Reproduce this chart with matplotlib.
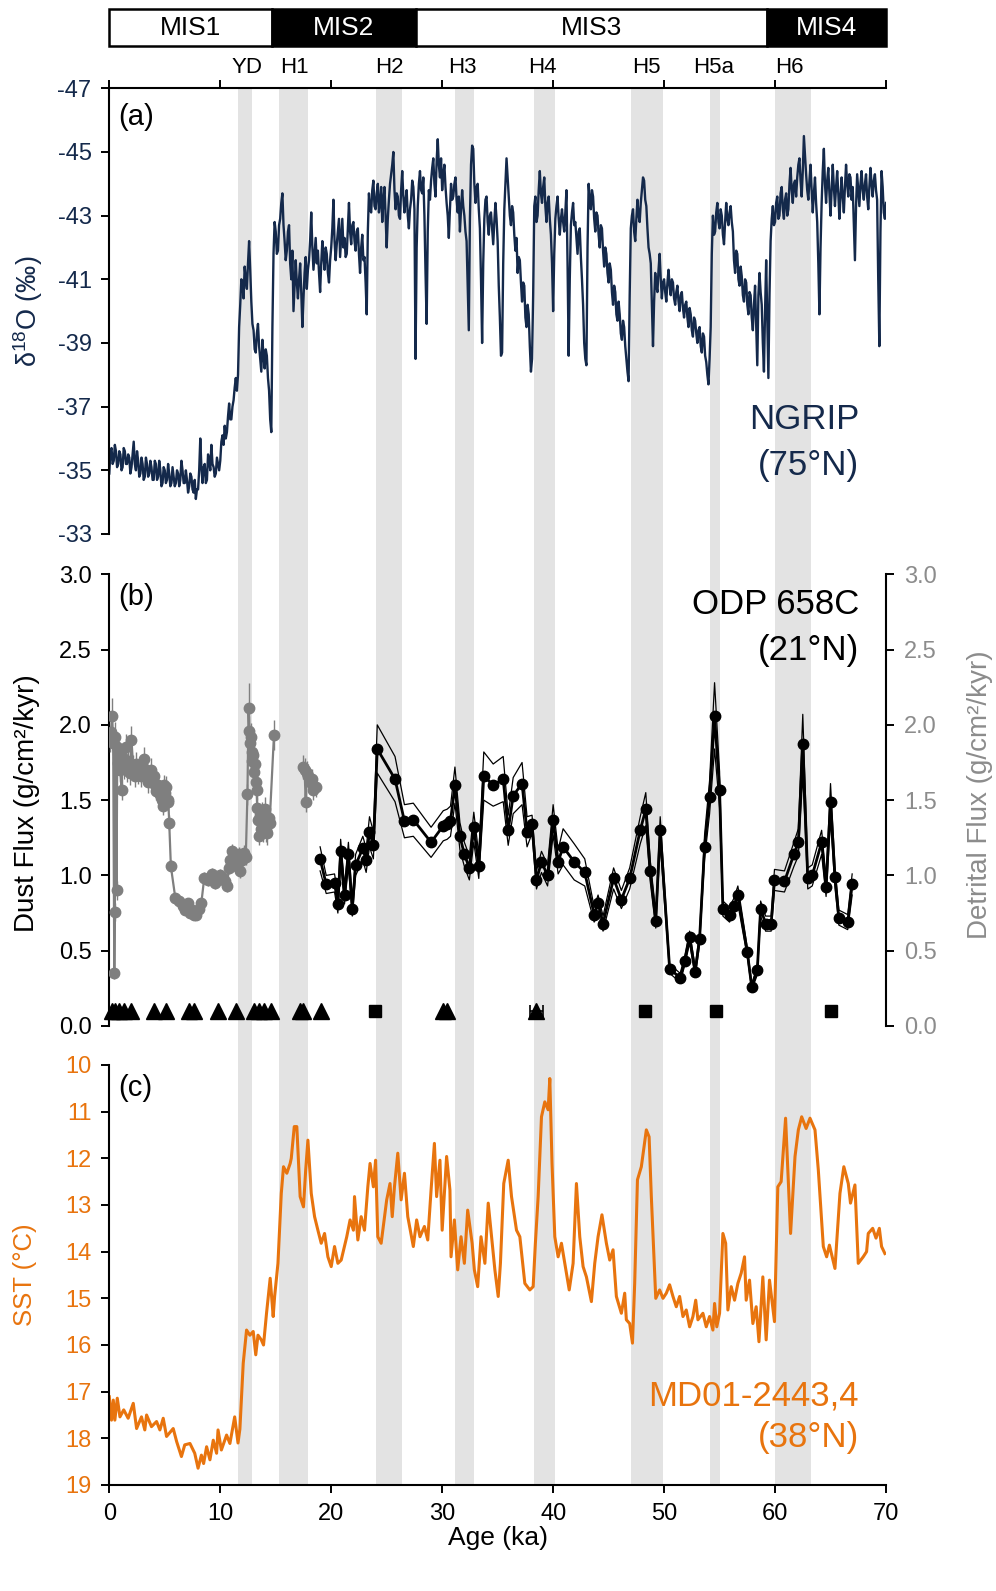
import numpy as np
import matplotlib
matplotlib.use('Agg')
import matplotlib.pyplot as plt
from matplotlib.patches import Rectangle

# ---------------- data ----------------
mis_labels = ['MIS1', 'MIS2', 'MIS3', 'MIS4']
mis_start = [0.0, 14.7, 27.6, 59.3]
mis_end = [14.7, 27.6, 59.3, 70.0]

event_labels = ['YD', 'H1', 'H2', 'H3', 'H4', 'H5', 'H5a', 'H6']
event_label_x = [12.4, 16.7, 25.2, 31.8, 39.0, 48.4, 54.5, 61.3]
band_start = [11.57, 15.29, 24.05, 31.14, 38.29, 47.0, 54.14, 59.97]
band_end = [12.88, 17.93, 26.34, 32.88, 40.18, 49.9, 55.08, 63.2]

# NGRIP d18O, 0.1 ka steps 0-70 ka (one row per ka)
ngrip_age = np.linspace(0, 70, 701)
ngrip_d18o = [
    -34.9, -35.6, -35.7, -35.2, -35.3, -35.8, -35.6, -35.1, -35.2, -35.6,
    -35.5, -35.0, -35.1, -35.7, -35.6, -35.2, -35.2, -35.5, -35.4, -34.9,
    -35.1, -35.5, -35.9, -35.2, -35.0, -35.6, -35.3, -34.8, -34.9, -35.4,
    -35.2, -34.7, -34.8, -35.4, -35.2, -34.8, -34.9, -35.3, -35.1, -34.7,
    -34.7, -35.3, -35.2, -34.7, -34.8, -35.3, -35.0, -34.5, -34.6, -35.1,
    -35.0, -34.6, -34.7, -35.2, -34.9, -34.5, -34.6, -35.1, -34.8, -34.5,
    -34.6, -35.0, -34.9, -34.5, -34.7, -35.3, -35.0, -34.6, -34.6, -35.0,
    -34.7, -34.3, -34.5, -34.9, -34.8, -34.4, -34.3, -34.7, -34.1, -34.4,
    -34.4, -35.0, -36.0, -35.1, -34.6, -35.1, -35.2, -34.6, -34.7, -35.5,
    -35.3, -35.0, -35.8, -35.2, -35.1, -34.8, -34.9, -35.4, -35.2, -35.0,
    -35.3, -35.9, -36.1, -35.8, -36.4, -36.0, -36.2, -36.7, -37.1, -36.6,
    -36.6, -37.0, -37.2, -37.6, -37.9, -37.5, -38.0, -39.5, -40.2, -41.0,
    -40.9, -40.4, -41.4, -41.0, -40.7, -41.5, -42.2, -41.3, -40.3, -39.6,
    -39.4, -38.8, -38.7, -39.3, -39.6, -38.9, -38.5, -38.1, -39.1, -38.6,
    -38.2, -38.8, -38.6, -37.9, -37.5, -36.6, -36.2, -39.5, -41.8, -42.8,
    -42.5, -41.8, -41.9, -42.7, -42.9, -43.4, -43.7, -42.7, -42.2, -41.6,
    -41.9, -42.5, -42.7, -41.5, -41.0, -41.9, -40.0, -40.8, -41.6, -40.9,
    -40.4, -41.0, -41.5, -40.6, -39.5, -40.4, -41.2, -41.7, -40.7, -41.3,
    -41.6, -42.2, -43.1, -42.0, -41.3, -41.8, -42.3, -41.5, -41.9, -41.2,
    -40.6, -41.5, -42.2, -41.7, -41.3, -42.0, -41.8, -41.2, -40.9, -41.6,
    -42.0, -42.6, -43.5, -42.2, -41.6, -42.1, -42.5, -42.9, -41.7, -42.3,
    -42.9, -42.0, -42.3, -41.7, -41.8, -42.6, -43.4, -42.5, -42.1, -42.7,
    -42.8, -42.2, -41.9, -42.5, -42.6, -41.8, -41.2, -42.0, -42.4, -41.6,
    -41.7, -40.9, -39.9, -42.5, -43.7, -43.2, -43.1, -43.8, -44.1, -43.3,
    -43.2, -43.7, -44.0, -43.1, -43.4, -43.9, -42.8, -43.5, -43.9, -43.0,
    -42.0, -42.9, -43.5, -44.0, -44.3, -44.6, -45.0, -43.8, -43.2, -43.7,
    -43.6, -43.0, -42.9, -43.8, -44.4, -43.6, -43.1, -43.5, -43.8, -43.0,
    -42.6, -43.2, -43.5, -44.1, -43.9, -43.2, -38.5, -42.0, -43.3, -44.0,
    -44.4, -43.8, -43.7, -44.2, -43.0, -41.2, -39.6, -42.5, -43.8, -43.5,
    -44.1, -44.5, -44.8, -44.0, -43.6, -44.7, -45.4, -44.6, -44.2, -44.8,
    -43.8, -44.3, -44.6, -43.9, -43.4, -43.0, -42.3, -43.2, -44.0, -43.5,
    -43.6, -44.0, -44.2, -43.5, -43.1, -43.6, -42.5, -43.2, -43.8, -43.3,
    -43.0, -42.5, -42.2, -40.8, -39.4, -42.9, -44.6, -45.2, -45.1, -44.0,
    -43.4, -43.9, -44.0, -43.2, -42.6, -41.0, -39.0, -41.5, -42.9, -43.5,
    -43.6, -42.8, -42.4, -43.0, -43.1, -42.6, -42.1, -42.8, -43.4, -42.9,
    -42.2, -40.8, -39.8, -38.6, -38.7, -41.5, -43.2, -44.0, -44.8, -44.2,
    -43.6, -43.0, -42.7, -43.3, -43.1, -42.4, -41.9, -42.3, -41.2, -41.7,
    -41.6, -40.9, -40.3, -40.9, -40.8, -39.8, -39.5, -40.2, -39.9, -38.9,
    -38.1, -38.5, -40.5, -43.3, -43.6, -42.8, -43.0, -43.8, -44.4, -43.7,
    -43.4, -43.9, -44.2, -43.3, -42.8, -43.4, -43.6, -42.9, -42.4, -41.5,
    -40.0, -41.8, -42.9, -43.3, -43.6, -42.9, -42.4, -42.9, -43.2, -42.8,
    -42.5, -43.1, -43.8, -41.5, -38.6, -41.0, -42.7, -43.1, -43.4, -42.7,
    -42.8, -42.3, -41.8, -42.5, -42.6, -41.7, -41.0, -40.2, -39.0, -38.5,
    -38.3, -42.0, -44.0, -43.5, -43.2, -43.8, -43.6, -42.9, -42.5, -43.1,
    -43.0, -42.4, -42.0, -42.7, -42.6, -41.9, -41.4, -42.0, -41.8, -41.2,
    -40.9, -41.5, -41.3, -40.6, -40.2, -40.8, -40.6, -39.9, -39.7, -40.3,
    -39.9, -39.3, -39.1, -39.7, -39.5, -38.9, -38.5, -38.1, -37.8, -40.5,
    -42.6, -43.0, -43.2, -42.5, -42.2, -42.9, -43.5, -43.0, -42.8, -43.4,
    -43.8, -44.2, -44.1, -43.5, -43.3, -42.6, -42.0, -41.8, -41.5, -40.2,
    -38.9, -40.3, -41.2, -40.8, -40.6, -41.3, -41.8, -41.0, -40.4, -40.9,
    -41.0, -40.6, -40.3, -40.9, -41.3, -40.8, -40.5, -41.0, -40.9, -40.4,
    -40.2, -40.6, -40.8, -40.3, -40.0, -40.5, -40.6, -40.1, -39.8, -40.2,
    -40.3, -39.8, -39.5, -40.1, -39.9, -39.4, -39.2, -39.8, -39.7, -39.3,
    -39.0, -39.4, -39.5, -38.9, -38.7, -39.3, -39.2, -38.6, -38.4, -38.0,
    -37.7, -38.5, -39.5, -41.8, -43.0, -42.4, -42.5, -43.1, -43.4, -42.8,
    -42.6, -43.2, -43.0, -42.4, -42.1, -42.8, -43.4, -42.9, -42.7, -43.1,
    -43.3, -42.8, -42.5, -41.6, -41.2, -41.9, -41.8, -41.0, -40.8, -41.4,
    -41.1, -40.5, -40.3, -41.0, -40.9, -40.2, -39.9, -40.6, -40.5, -39.8,
    -39.4, -40.2, -40.8, -39.5, -38.3, -40.5, -41.2, -40.6, -40.2, -39.0,
    -38.1, -40.0, -41.6, -39.8, -37.9, -40.5, -42.2, -42.9, -43.3, -42.7,
    -42.8, -43.4, -43.6, -42.9, -43.0, -43.7, -43.9, -43.2, -42.9, -43.5,
    -43.7, -43.0, -43.2, -44.0, -44.5, -43.8, -43.4, -44.0, -44.1, -43.6,
    -44.2, -44.6, -44.8, -44.1, -43.6, -44.4, -45.5, -44.9, -44.3, -43.8,
    -43.5, -44.1, -44.6, -43.8, -43.1, -43.7, -44.2, -43.4, -42.8, -41.5,
    -39.9, -42.0, -43.4, -44.4, -45.1, -44.0, -43.4, -44.1, -44.5, -43.7,
    -43.0, -43.8, -44.6, -43.9, -43.3, -43.9, -44.4, -43.7, -42.9, -43.6,
    -44.2, -43.6, -43.1, -43.9, -44.6, -44.0, -43.6, -44.3, -44.2, -43.5,
    -43.9, -42.8, -41.6, -43.3, -44.3, -43.8, -43.3, -44.0, -44.4, -43.8,
    -43.5, -44.0, -44.3, -43.6, -43.2, -43.9, -44.5, -44.0, -43.6, -44.1,
    -44.3, -43.8, -43.5, -41.0, -38.9, -42.5, -44.4, -43.9, -43.1, -42.9,
    -43.4]

# ODP 658C detrital flux (grey, right axis)
detr1_age = [0.05, 0.15, 0.25, 0.35, 0.45, 0.5, 0.55, 0.65, 0.72, 0.8, 0.9, 1.0, 1.1, 1.2,
             1.3, 1.4, 1.5, 1.6, 1.7, 1.85, 2.0, 2.15, 2.3, 2.45, 2.6, 2.75, 2.9, 3.05,
             3.15, 3.3, 3.45, 3.6, 3.75, 3.85, 4.0, 4.1, 4.25, 4.35, 4.5, 4.65, 4.75, 4.85,
             4.95, 5.05, 5.15, 5.25, 5.32, 5.4, 5.55, 5.95, 6.3, 6.6, 6.85, 7.05, 7.25, 7.45,
             7.65, 7.85, 8.05, 8.3, 8.55, 8.9, 9.25, 9.5, 9.7, 9.95, 10.2, 10.45, 10.65, 10.75,
             10.9, 11.05, 11.2, 11.35, 11.5, 11.65, 11.8, 11.95, 12.1, 12.3, 12.45, 12.55,
             12.62, 12.68, 12.75, 12.82, 12.9, 12.97, 13.05, 13.12, 13.2, 13.27, 13.33, 13.4,
             13.48, 13.55, 13.65, 13.75, 13.85, 13.95, 14.05, 14.15, 14.25, 14.35, 14.45, 14.84]
detr1_flux = [1.90, 1.95, 2.06, 1.88, 0.35, 0.76, 1.92, 0.90, 1.85, 1.75, 1.80, 1.70, 1.57, 1.78,
              1.72, 1.74, 1.85, 1.70, 1.76, 1.68, 1.90, 1.72, 1.66, 1.74, 1.68, 1.70, 1.66, 1.72,
              1.77, 1.69, 1.62, 1.66, 1.70, 1.63, 1.66, 1.60, 1.56, 1.60, 1.55, 1.52, 1.50, 1.46,
              1.60, 1.55, 1.59, 1.50, 1.49, 1.35, 1.06, 0.85, 0.83, 0.80, 0.77, 0.82, 0.75, 0.77,
              0.74, 0.74, 0.78, 0.82, 0.98, 0.97, 1.01, 0.95, 0.97, 1.00, 0.99, 0.96, 0.93, 1.05,
              1.10, 1.16, 1.08, 1.12, 1.06, 1.14, 1.03, 1.10, 1.15, 1.12, 1.54, 2.11,
              1.96, 1.88, 1.92, 1.82, 1.76, 1.80, 1.69, 1.74, 1.62, 1.57, 1.45, 1.37,
              1.26, 1.40, 1.31, 1.41, 1.29, 1.35, 1.44, 1.30, 1.28, 1.38, 1.35, 1.93]
detr1_err = [0.08, 0.10, 0.12, 0.08, 0.04, 0.06, 0.10, 0.06, 0.10, 0.08, 0.09, 0.08, 0.07, 0.08,
             0.08, 0.08, 0.09, 0.08, 0.08, 0.08, 0.09, 0.08, 0.07, 0.08, 0.07, 0.07, 0.07, 0.08,
             0.08, 0.07, 0.07, 0.07, 0.08, 0.07, 0.07, 0.07, 0.06, 0.07, 0.06, 0.06, 0.06, 0.06,
             0.07, 0.06, 0.07, 0.06, 0.06, 0.05, 0.04, 0.03, 0.03, 0.03, 0.03, 0.03, 0.03, 0.03,
             0.03, 0.03, 0.03, 0.03, 0.04, 0.04, 0.04, 0.04, 0.04, 0.04, 0.04, 0.04, 0.04, 0.04,
             0.05, 0.05, 0.05, 0.05, 0.05, 0.05, 0.05, 0.05, 0.05, 0.05, 0.07, 0.17,
             0.10, 0.09, 0.09, 0.09, 0.08, 0.08, 0.08, 0.08, 0.08, 0.07, 0.07, 0.07,
             0.06, 0.07, 0.08, 0.08, 0.07, 0.08, 0.08, 0.08, 0.08, 0.08, 0.08, 0.10]
detr2_age = [17.5, 17.6, 17.7, 17.8, 17.95, 18.1, 18.25, 18.4, 18.6]
detr2_flux = [1.72, 1.70, 1.49, 1.68, 1.66, 1.62, 1.64, 1.57, 1.59]
detr2_err = [0.08, 0.08, 0.07, 0.08, 0.08, 0.07, 0.07, 0.07, 0.07]

# ODP 658C dust flux (black, left axis)
dust_age = [19.0, 19.55, 20.3, 20.6, 20.85, 21.2, 21.55, 21.9, 22.2, 22.85, 23.15, 23.45, 23.8,
            24.15, 25.75, 26.6, 27.4, 29.0, 30.1, 30.45, 30.75, 31.15, 31.6, 32.0, 32.45, 32.85,
            33.3, 33.75, 34.6, 35.5, 35.95, 36.4, 37.2, 37.65, 38.1, 38.5, 38.95, 39.5, 40.0,
            40.45, 40.9, 41.9, 42.85, 43.7, 44.05, 44.5, 45.45, 46.15, 46.9, 47.85, 48.35, 48.75,
            49.25, 49.65, 50.5, 51.45, 51.85, 52.3, 52.8, 53.2, 53.65, 54.1, 54.55, 55.0, 55.3,
            55.9, 56.3, 56.65, 57.5, 57.9, 58.4, 58.7, 59.15, 59.65, 59.95, 60.85, 61.7, 62.1,
            62.5, 62.95, 63.35, 64.2, 64.6, 65.0, 65.4, 65.75, 66.55, 66.95]
dust_flux = [1.11, 0.94, 0.95, 0.81, 1.16, 0.87, 1.14, 0.78, 1.07, 1.18, 1.10, 1.29, 1.20,
             1.84, 1.64, 1.36, 1.37, 1.22, 1.33, 1.34, 1.36, 1.60, 1.26, 1.14, 1.05, 1.32,
             1.06, 1.66, 1.60, 1.64, 1.30, 1.53, 1.61, 1.29, 1.34, 0.97, 1.09, 1.00, 1.37,
             1.09, 1.19, 1.09, 1.02, 0.74, 0.82, 0.68, 0.98, 0.84, 0.98, 1.30, 1.44, 1.03,
             0.70, 1.30, 0.38, 0.32, 0.43, 0.59, 0.36, 0.58, 1.19, 1.52, 2.06, 1.57, 0.78,
             0.74, 0.80, 0.87, 0.49, 0.26, 0.37, 0.78, 0.68, 0.68, 0.97, 0.96, 1.14, 1.22,
             1.87, 0.98, 1.00, 1.22, 0.92, 1.49, 0.99, 0.72, 0.69, 0.94]
dust_err = [0.08, 0.06, 0.06, 0.06, 0.08, 0.06, 0.08, 0.05, 0.07, 0.08, 0.08, 0.10, 0.09,
            0.16, 0.15, 0.11, 0.11, 0.10, 0.10, 0.10, 0.10, 0.12, 0.09, 0.08, 0.08, 0.10,
            0.08, 0.16, 0.14, 0.15, 0.10, 0.12, 0.14, 0.10, 0.06, 0.06, 0.07, 0.07, 0.10,
            0.08, 0.12, 0.12, 0.09, 0.05, 0.05, 0.05, 0.07, 0.06, 0.07, 0.09, 0.11, 0.07,
            0.05, 0.09, 0.03, 0.03, 0.03, 0.04, 0.03, 0.04, 0.08, 0.11, 0.22, 0.12, 0.05,
            0.05, 0.05, 0.06, 0.03, 0.02, 0.03, 0.05, 0.05, 0.05, 0.07, 0.07, 0.08, 0.09,
            0.20, 0.07, 0.07, 0.08, 0.06, 0.12, 0.07, 0.05, 0.05, 0.07]

# age control points
tri_age = [0.2, 0.55, 0.9, 1.3, 2.0, 4.05, 5.15, 7.2, 7.6, 9.8, 11.4, 13.0, 13.5, 13.9, 14.6,
           17.2, 17.5, 19.1, 30.1, 30.4, 38.5]
tri_xerr = [0, 0, 0, 0, 0, 0, 0, 0, 0, 0, 0, 0, 0, 0, 0, 0, 0, 0, 0, 0, 0.6]
sq_age = [23.95, 48.25, 54.7, 65.0]

# MD01-2443/4 SST
sst_age = [0.0, 0.2, 0.36, 0.5, 0.72, 0.96, 1.3, 1.7, 2.16, 2.46, 2.9, 3.2, 3.36, 3.8, 4.26,
           4.56, 4.86, 5.16, 5.76, 6.07, 6.5, 6.8, 7.27, 7.7, 8.0, 8.3, 8.5, 8.77, 9.07, 9.37,
           9.67, 9.8, 10.1, 10.57, 10.87, 11.3, 11.6, 11.77, 12.07, 12.37, 12.67, 12.97, 13.2,
           13.4, 13.7, 13.9, 14.17, 14.5, 14.77, 14.9, 15.2, 15.5, 15.7, 16.0, 16.3, 16.4,
           16.67, 16.9, 17.2, 17.5, 17.7, 17.9, 18.2, 18.5, 18.8, 19.1, 19.4, 19.7, 20.0,
           20.3, 20.6, 20.9, 21.4, 21.7, 22.0, 22.1, 22.4, 22.7, 23.0, 23.3, 23.5, 23.8,
           24.0, 24.2, 24.5, 25.0, 25.3, 25.5, 25.7, 26.0, 26.3, 26.6, 26.9, 27.4, 27.7,
           28.0, 28.4, 28.7, 29.0, 29.3, 29.5, 29.8, 30.0, 30.4, 30.7, 30.8, 31.1, 31.4,
           31.7, 32.0, 32.3, 32.5, 32.7, 32.9, 33.2, 33.5, 33.85, 34.15, 34.45, 34.75, 35.05,
           35.25, 35.55, 35.95, 36.25, 36.7, 37.0, 37.45, 37.9, 38.2, 38.4, 38.65, 38.95,
           39.25, 39.55, 39.7, 39.9, 40.15, 40.45, 40.75, 41.05, 41.45, 41.8, 42.1, 42.4,
           42.7, 43.0, 43.45, 43.75, 44.05, 44.4, 44.8, 45.1, 45.4, 45.7, 46.15, 46.45, 46.6,
           46.9, 47.15, 47.35, 47.6, 47.95, 48.4, 48.65, 48.85, 49.25, 49.6, 49.9, 50.2,
           50.5, 50.8, 51.1, 51.4, 51.7, 52.0, 52.3, 52.6, 52.85, 53.05, 53.5, 53.8, 54.1,
           54.4, 54.55, 54.75, 55.0, 55.3, 55.55, 55.75, 56.05, 56.35, 56.65, 56.95, 57.25,
           57.4, 57.7, 58.0, 58.3, 58.55, 58.9, 59.2, 59.5, 59.95, 60.25, 60.55, 60.95, 61.4,
           61.8, 62.1, 62.4, 62.8, 63.15, 63.6, 63.9, 64.35, 64.65, 64.9, 65.4, 65.85, 66.2,
           66.6, 66.8, 67.2, 67.5, 67.95, 68.25, 68.4, 68.8, 69.1, 69.4, 69.6, 69.9]
sst_val = [17.11, 17.61, 17.18, 17.61, 17.14, 17.54, 17.39, 17.57, 17.25, 17.79, 17.54, 17.82,
           17.5, 17.75, 17.64, 17.82, 17.57, 17.96, 17.79, 18.07, 18.39, 18.14, 18.11, 18.32,
           18.64, 18.36, 18.54, 18.18, 18.46, 18.04, 18.32, 17.82, 18.25, 17.93, 18.11, 17.54,
           18.1, 17.8, 16.39, 15.68, 15.79, 15.71, 16.21, 15.79, 15.89, 16.0, 15.32, 14.57,
           15.39, 14.96, 14.25, 12.75, 12.18, 12.32, 12.11, 12.0, 11.32, 11.32, 12.82, 13.04,
           12.25, 11.61, 12.75, 13.25, 13.54, 13.82, 13.61, 14.11, 14.32, 13.89, 14.25, 14.18,
           13.68, 13.32, 13.54, 12.82, 13.75, 13.25, 13.54, 12.61, 12.11, 12.61, 12.04, 13.68,
           13.82, 12.89, 12.54, 13.25, 12.61, 11.89, 12.89, 12.32, 13.25, 13.89, 13.32, 13.68,
           13.46, 13.75, 12.68, 11.68, 12.82, 12.04, 13.54, 11.96, 12.68, 14.11, 13.32, 14.39,
           13.68, 14.25, 13.11, 13.46, 13.82, 14.39, 14.75, 13.68, 14.25, 12.96, 13.68, 14.39,
           14.96, 14.25, 12.54, 12.04, 12.82, 13.54, 13.68, 14.68, 14.82, 14.75, 13.82, 12.82,
           11.11, 10.79, 10.96, 10.29, 12.11, 13.68, 14.11, 13.82, 14.25, 14.82, 14.25, 12.54,
           13.68, 14.32, 14.54, 15.07, 14.25, 13.68, 13.21, 13.82, 14.18, 13.96, 14.96, 15.32,
           14.89, 15.46, 15.54, 15.96, 14.68, 12.46, 12.18, 11.39, 11.54, 12.82, 15.0, 14.82,
           15.0, 14.89, 14.71, 14.96, 15.18, 14.96, 15.39, 15.25, 15.61, 15.39, 15.04, 15.46,
           15.32, 15.61, 15.39, 15.68, 15.11, 15.61, 15.32, 13.61, 13.82, 15.25, 14.75, 15.04,
           14.68, 14.46, 14.11, 15.04, 14.61, 15.54, 15.18, 15.93, 14.54, 15.89, 14.61, 15.5,
           12.61, 12.5, 11.14, 13.61, 11.96, 11.39, 11.11, 11.36, 11.14, 11.39, 12.25, 13.89,
           14.11, 13.86, 14.36, 12.75, 12.18, 12.54, 12.96, 12.57, 14.25, 14.11, 14.0, 13.61,
           13.5, 13.71, 13.5, 13.89, 14.04]

# ---------------- style ----------------
NAVY = '#14294b'
ORANGE = '#e8740e'
GREY = '#7f7f7f'
GREY_LABEL = '#8c8c8c'
BAND = '#e3e3e3'

plt.rcParams['font.family'] = ['Liberation Sans', 'DejaVu Sans']
plt.rcParams['mathtext.fontset'] = 'custom'
plt.rcParams['mathtext.rm'] = 'Liberation Sans'
plt.rcParams['mathtext.it'] = 'Liberation Sans:italic'
plt.rcParams['axes.unicode_minus'] = False

W_PX, H_PX = 996, 1591
fig = plt.figure(figsize=(W_PX / 100, H_PX / 100), dpi=100)


def rect(x0, y_top, x1, y_bot):
    return [x0 / W_PX, 1 - y_bot / H_PX, (x1 - x0) / W_PX, (y_bot - y_top) / H_PX]


X0, X1 = 109.3, 886.0
TICK_LEN, TICK_W, SPINE_W, TICK_FS, PAD = 5.8, 1.4, 1.5, 17, 7.0
ANN_FS = 25

# background bands
ax_bg = fig.add_axes(rect(X0, 88.3, X1, 1485), zorder=0)
ax_bg.set_xlim(0, 70)
ax_bg.set_ylim(0, 1)
ax_bg.axis('off')
for s, e in zip(band_start, band_end):
    ax_bg.axvspan(s, e, color=BAND, lw=0)

# MIS bar
ax_mis = fig.add_axes(rect(X0, 8.5, X1, 45.5), zorder=3)
ax_mis.set_xlim(0, 70)
ax_mis.set_ylim(0, 1)
ax_mis.axis('off')
for i, (lab, s, e) in enumerate(zip(mis_labels, mis_start, mis_end)):
    dark = i % 2 == 1
    ax_mis.add_patch(Rectangle((s, 0), e - s, 1, facecolor='black' if dark else 'white',
                               edgecolor='black', lw=1.8, clip_on=False))
    ax_mis.text((s + e) / 2, 0.47, lab, ha='center', va='center', fontsize=19,
                color='white' if dark else 'black')


def style_axis(ax):
    ax.patch.set_visible(False)
    for sp in ax.spines.values():
        sp.set_linewidth(SPINE_W)
    ax.tick_params(direction='out', length=TICK_LEN, width=TICK_W, labelsize=TICK_FS, pad=PAD)
    ax.set_xlim(0, 70)


# ---------- panel (a) ----------
ax_a = fig.add_axes(rect(X0, 88.3, X1, 534), zorder=2)
style_axis(ax_a)
ax_a.plot(ngrip_age, ngrip_d18o, color=NAVY, lw=1.7)
ax_a.set_ylim(-33, -47)
ax_a.set_yticks(np.arange(-47, -32, 2))
ax_a.spines['right'].set_visible(False)
ax_a.spines['bottom'].set_visible(False)
ax_a.xaxis.tick_top()
ax_a.set_xticks(np.arange(0, 71, 10))
ax_a.tick_params(axis='x', top=True, bottom=False, labeltop=False, labelbottom=False)
ax_a.tick_params(axis='y', labelcolor=NAVY, color='black')
for lab, x in zip(event_labels, event_label_x):
    ax_a.text(x, 1.0456, lab, transform=ax_a.get_xaxis_transform(), ha='center',
              va='center', fontsize=16, clip_on=False)
ax_a.text(0.0112, 0.9356, '(a)', transform=ax_a.transAxes, fontsize=21, ha='left', va='center')
ax_a.text(0.9652, 0.2558, 'NGRIP', transform=ax_a.transAxes, fontsize=ANN_FS, ha='right',
          va='center', color=NAVY)
ax_a.text(0.9652, 0.1526, '(75°N)', transform=ax_a.transAxes, fontsize=ANN_FS, ha='right',
          va='center', color=NAVY)
fig.text(28 / W_PX, 1 - 311 / H_PX, r'δ$^{18}$O (‰)', rotation=90, ha='center', va='center',
         fontsize=19.5, color=NAVY)

# ---------- panel (b) ----------
ax_b = fig.add_axes(rect(X0, 574.3, X1, 1026), zorder=2)
style_axis(ax_b)
ax_b.set_ylim(0, 3)
ax_b.set_yticks(np.arange(0, 3.01, 0.5))
ax_b.set_yticklabels([f'{v:.1f}' for v in np.arange(0, 3.01, 0.5)])
ax_b.spines['top'].set_visible(False)
ax_b.spines['bottom'].set_visible(False)
ax_b.spines['right'].set_visible(False)
ax_b.set_xticks([])

dust_age_a = np.array(dust_age)
dust_flux_a = np.array(dust_flux)
dust_err_a = np.array(dust_err)
ax_b.plot(dust_age_a, dust_flux_a + dust_err_a, color='black', lw=0.9)
ax_b.plot(dust_age_a, dust_flux_a - dust_err_a, color='black', lw=0.9)
ax_b.plot(dust_age_a, dust_flux_a, color='black', lw=2.0, marker='o', ms=7.5)

ax_b2 = ax_b.twinx()
ax_b2.patch.set_visible(False)
ax_b2.set_xlim(0, 70)
ax_b2.set_ylim(0, 3)
ax_b2.set_yticks(np.arange(0, 3.01, 0.5))
ax_b2.set_yticklabels([f'{v:.1f}' for v in np.arange(0, 3.01, 0.5)])
for k in ['top', 'bottom', 'left']:
    ax_b2.spines[k].set_visible(False)
ax_b2.spines['right'].set_linewidth(SPINE_W)
ax_b2.tick_params(axis='y', direction='out', length=TICK_LEN, width=TICK_W, labelsize=TICK_FS,
                  pad=PAD, labelcolor=GREY_LABEL, color='black')
for a, f, e in [(detr1_age, detr1_flux, detr1_err), (detr2_age, detr2_flux, detr2_err)]:
    ax_b2.errorbar(a, f, yerr=e, fmt='none', ecolor=GREY, elinewidth=1.0, capsize=0)
    ax_b2.plot(a, f, color=GREY, lw=1.6, marker='o', ms=7.5)

ax_b2.plot(tri_age, [0.1] * len(tri_age), linestyle='none', marker='^', ms=11.5, color='black',
           clip_on=False)
ax_b2.errorbar(tri_age[-1:], [0.1], xerr=tri_xerr[-1:], fmt='none', ecolor='black', elinewidth=1.2,
               capsize=4, capthick=1.2)
ax_b2.plot(sq_age, [0.1] * len(sq_age), linestyle='none', marker='s', ms=9, color='black',
           clip_on=False)

ax_b.text(0.0112, 0.950, '(b)', transform=ax_b.transAxes, fontsize=21, ha='left', va='center')
ax_b.text(0.9652, 0.934, 'ODP 658C', transform=ax_b.transAxes, fontsize=ANN_FS, ha='right',
          va='center')
ax_b.text(0.9652, 0.832, '(21°N)', transform=ax_b.transAxes, fontsize=ANN_FS, ha='right',
          va='center')
fig.text(27 / W_PX, 1 - 803 / H_PX, 'Dust Flux (g/cm²/kyr)', rotation=90, ha='center',
         va='center', fontsize=20)
fig.text(980 / W_PX, 1 - 795 / H_PX, 'Detrital Flux (g/cm²/kyr)', rotation=90, ha='center',
         va='center', fontsize=20, color=GREY_LABEL)

# ---------- panel (c) ----------
ax_c = fig.add_axes(rect(X0, 1065, X1, 1485), zorder=2)
style_axis(ax_c)
ax_c.plot(sst_age, sst_val, color=ORANGE, lw=2.2)
ax_c.set_ylim(19, 10)
ax_c.set_yticks(np.arange(10, 20, 1))
ax_c.spines['top'].set_visible(False)
ax_c.spines['right'].set_visible(False)
ax_c.set_xticks(np.arange(0, 71, 10))
ax_c.tick_params(axis='y', labelcolor=ORANGE)
ax_c.text(0.0112, 0.945, '(c)', transform=ax_c.transAxes, fontsize=21, ha='left', va='center')
ax_c.text(0.9652, 0.212, 'MD01-2443,4', transform=ax_c.transAxes, fontsize=ANN_FS, ha='right',
          va='center', color=ORANGE)
ax_c.text(0.9652, 0.113, '(38°N)', transform=ax_c.transAxes, fontsize=ANN_FS, ha='right',
          va='center', color=ORANGE)
fig.text(25 / W_PX, 1 - 1275 / H_PX, 'SST (°C)', rotation=90, ha='center', va='center',
         fontsize=18.5, color=ORANGE)
fig.text(497.5 / W_PX, 1 - 1538 / H_PX, 'Age (ka)', ha='center', va='center', fontsize=19)

fig.savefig('out.png', dpi=100)
